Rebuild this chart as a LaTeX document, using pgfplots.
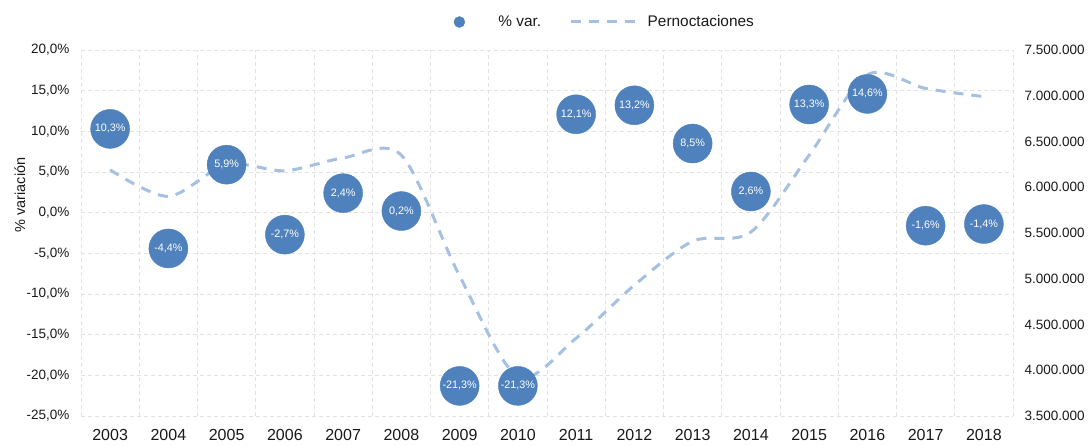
\documentclass[border=0pt]{standalone}
\usepackage{pgfplots}
\pgfplotsset{compat=1.18}
\usepackage{fontspec}
\setmainfont{Liberation Sans}
\definecolor{bub}{RGB}{79,129,189}
\definecolor{lin}{RGB}{165,192,224}
\definecolor{grd}{RGB}{226,226,226}
\definecolor{txt}{RGB}{25,25,25}
\begin{document}
\begin{tikzpicture}
\path[use as bounding box] (-81bp,-30bp) rectangle (1010bp,416bp);
\pgfplotsset{
  base/.style={
    at={(0bp,0bp)}, anchor=south west, scale only axis,
    width=932bp, height=366bp,
    xmin=2002.5, xmax=2018.5,
    axis line style={draw=none},
    major tick length=0pt, minor tick length=0pt,
    tick style={draw=none},
    clip=false,
  }
}
% grid, left ticks, x labels, legend
\begin{axis}[base, ymin=-25, ymax=20,
  ytick={-25,-20,-15,-10,-5,0,5,10,15,20},
  yticklabels={{-25,0\%},{-20,0\%},{-15,0\%},{-10,0\%},{-5,0\%},{0,0\%},{5,0\%},{10,0\%},{15,0\%},{20,0\%}},
  xtick={2003,2004,2005,2006,2007,2008,2009,2010,2011,2012,2013,2014,2015,2016,2017,2018},
  xticklabels={2003,2004,2005,2006,2007,2008,2009,2010,2011,2012,2013,2014,2015,2016,2017,2018},
  minor xtick={2002.5,2003.5,2004.5,2005.5,2006.5,2007.5,2008.5,2009.5,2010.5,2011.5,2012.5,2013.5,2014.5,2015.5,2016.5,2017.5,2018.5},
  ymajorgrids, xminorgrids,
  grid style={grd, dash pattern=on 4bp off 3bp, line width=0.9bp},
  minor grid style={grd, dash pattern=on 4bp off 3bp, line width=0.9bp},
  yticklabel style={font=\fontsize{13.5bp}{16bp}\selectfont, text=txt, anchor=east, xshift=-8bp},
  xticklabel style={font=\fontsize{16bp}{19bp}\selectfont, text=txt, anchor=north, yshift=-10bp},
  ylabel={\% variación},
  ylabel style={font=\fontsize{14.5bp}{17bp}\selectfont, text=txt, at={(axis description cs:-0.0655,0.604)}, anchor=center},
  legend columns=2,
  legend style={draw=none, fill=none, at={(axis description cs:0.562,1.0765)}, anchor=center,
    font=\fontsize{15.4bp}{18bp}\selectfont, text=txt,
    /tikz/every even column/.append style={column sep=26bp}},
  legend cell align=left,
]
\addlegendimage{legend image code/.code={\fill[bub] (0bp,0bp) circle (5.5bp); \path[draw=none] (-5.5bp,0bp) -- (37bp,0bp);}}
\addlegendentry{\% var.}
\addlegendimage{legend image code/.code={\draw[lin, line width=3bp, dash pattern=on 10bp off 8bp] (0bp,0bp) -- (66bp,0bp); \path[draw=none] (0bp,0bp) -- (75bp,0bp);}}
\addlegendentry{Pernoctaciones}
\end{axis}
% right axis with line
\begin{axis}[base, ymin=3500000, ymax=7500000,
  axis y line*=right, xtick=\empty,
  scaled y ticks=false,
  ytick={3500000,4000000,4500000,5000000,5500000,6000000,6500000,7000000,7500000},
  yticklabels={3.500.000,4.000.000,4.500.000,5.000.000,5.500.000,6.000.000,6.500.000,7.000.000,7.500.000},
  yticklabel style={font=\fontsize{13.5bp}{16bp}\selectfont, text=txt, anchor=west, xshift=8bp},
]
\addplot[lin, line width=3bp, dash pattern=on 10bp off 8bp, smooth] coordinates {
(2003,6190000) (2004,5900000) (2005,6250000) (2006,6180000) (2007,6320000) (2008,6350000)
(2009,5030000) (2010,3930000) (2011,4350000) (2012,4930000) (2013,5410000) (2014,5510000)
(2015,6350000) (2016,7230000) (2017,7080000) (2018,6990000)};
\end{axis}
% bubbles
\begin{axis}[base, ymin=-25, ymax=20, hide axis]
\addplot[only marks, mark=*, mark size=19.5bp, mark options={draw=bub, fill=bub},
  point meta=explicit symbolic, nodes near coords,
  nodes near coords style={anchor=center, text=white, font=\fontsize{10.8bp}{12bp}\selectfont}]
coordinates {
(2003,10.3) [10,3\%] (2004,-4.4) [-4,4\%] (2005,5.9) [5,9\%] (2006,-2.7) [-2,7\%]
(2007,2.4) [2,4\%] (2008,0.2) [0,2\%] (2009,-21.3) [-21,3\%] (2010,-21.3) [-21,3\%]
(2011,12.1) [12,1\%] (2012,13.2) [13,2\%] (2013,8.5) [8,5\%] (2014,2.6) [2,6\%]
(2015,13.3) [13,3\%] (2016,14.6) [14,6\%] (2017,-1.6) [-1,6\%] (2018,-1.4) [-1,4\%]};
\end{axis}
\end{tikzpicture}
\end{document}
